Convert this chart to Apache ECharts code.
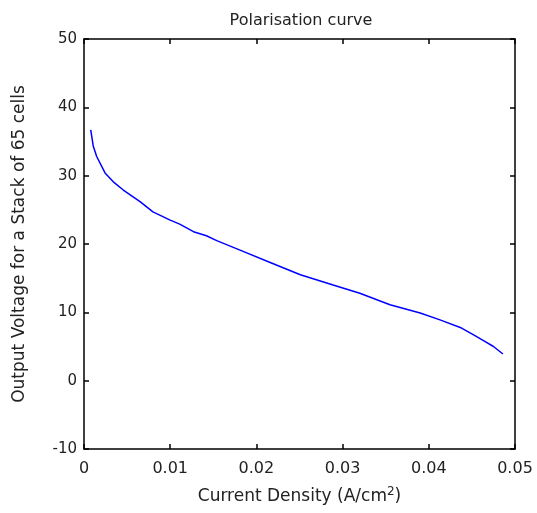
<!DOCTYPE html>
<html>
<head>
<meta charset="utf-8">
<script src="https://cdn.jsdelivr.net/npm/echarts@6/dist/echarts.min.js"></script>
<style>
  html, body { margin: 0; padding: 0; background: #fff; }
  #chart { width: 537px; height: 513px; }
</style>
</head>
<body>
<div id="chart"></div>
<script>
// current density (A/cm2) and stack voltage
const currentDensity = [0.00078, 0.00108, 0.00147, 0.00244, 0.0034, 0.00456, 0.0065, 0.008, 0.01, 0.0111,
  0.0127, 0.0142, 0.0154, 0.0181, 0.0216, 0.0251, 0.0289, 0.032, 0.0355, 0.039, 0.0413, 0.0438,
  0.0452, 0.0463, 0.0475, 0.0486];
const voltage = [36.7, 34.3, 32.8, 30.4, 29.1, 27.9, 26.2, 24.7, 23.5, 22.9,
  21.8, 21.2, 20.5, 19.1, 17.3, 15.5, 14.0, 12.8, 11.1, 9.9, 8.9, 7.7,
  6.7, 5.9, 5.0, 3.9];
const xTickLabels = ['0', '0.01', '0.02', '0.03', '0.04', '0.05'];

const chart = echarts.init(document.getElementById('chart'));

const font = 'DejaVu Sans, sans-serif';
const txt = '#222';
const axisLine = { show: true, onZero: false, lineStyle: { color: '#000', width: 1.5 } };
const tick = { show: true, inside: true, length: 5, lineStyle: { color: '#000', width: 1.5 } };

chart.setOption({
  animation: false,
  title: {
    text: 'Polarisation curve',
    left: 296, top: 8, textAlign: 'center',
    textStyle: { fontFamily: font, fontSize: 16, fontWeight: 'normal', color: txt }
  },
  grid: { left: 84, right: 22, top: 39, bottom: 64 },
  xAxis: [{
    type: 'value', min: 0, max: 0.05, interval: 0.01,
    name: 'Current Density (A/cm{sup|2})',
    nameLocation: 'middle', nameGap: 37,
    nameTextStyle: {
      fontFamily: font, fontSize: 17, color: txt,
      rich: { sup: { fontFamily: font, fontSize: 12, color: txt, padding: [0, 0, 9, 0] } }
    },
    axisLine: axisLine, axisTick: tick, splitLine: { show: false },
    axisLabel: {
      margin: 12, fontFamily: font, fontSize: 16, color: txt,
      formatter: v => xTickLabels[Math.round(v * 100)]
    }
  }, {
    type: 'value', position: 'top', min: 0, max: 0.05, interval: 0.01,
    axisLine: axisLine, axisTick: tick, axisLabel: { show: false }, splitLine: { show: false }
  }],
  yAxis: [{
    type: 'value', min: -10, max: 50, interval: 10,
    name: 'Output Voltage for a Stack of 65 cells',
    nameLocation: 'middle', nameGap: 56,
    nameTextStyle: { fontFamily: font, fontSize: 17, color: txt },
    axisLine: axisLine, axisTick: tick, splitLine: { show: false },
    axisLabel: { margin: 7, fontFamily: font, fontSize: 15, color: txt }
  }, {
    type: 'value', position: 'right', min: -10, max: 50, interval: 10,
    axisLine: axisLine, axisTick: tick, axisLabel: { show: false }, splitLine: { show: false }
  }],
  series: [{
    type: 'line',
    data: currentDensity.map((x, i) => [x, voltage[i]]),
    showSymbol: false,
    lineStyle: { color: '#0000ff', width: 1.5 }
  }]
});
</script>
</body>
</html>
